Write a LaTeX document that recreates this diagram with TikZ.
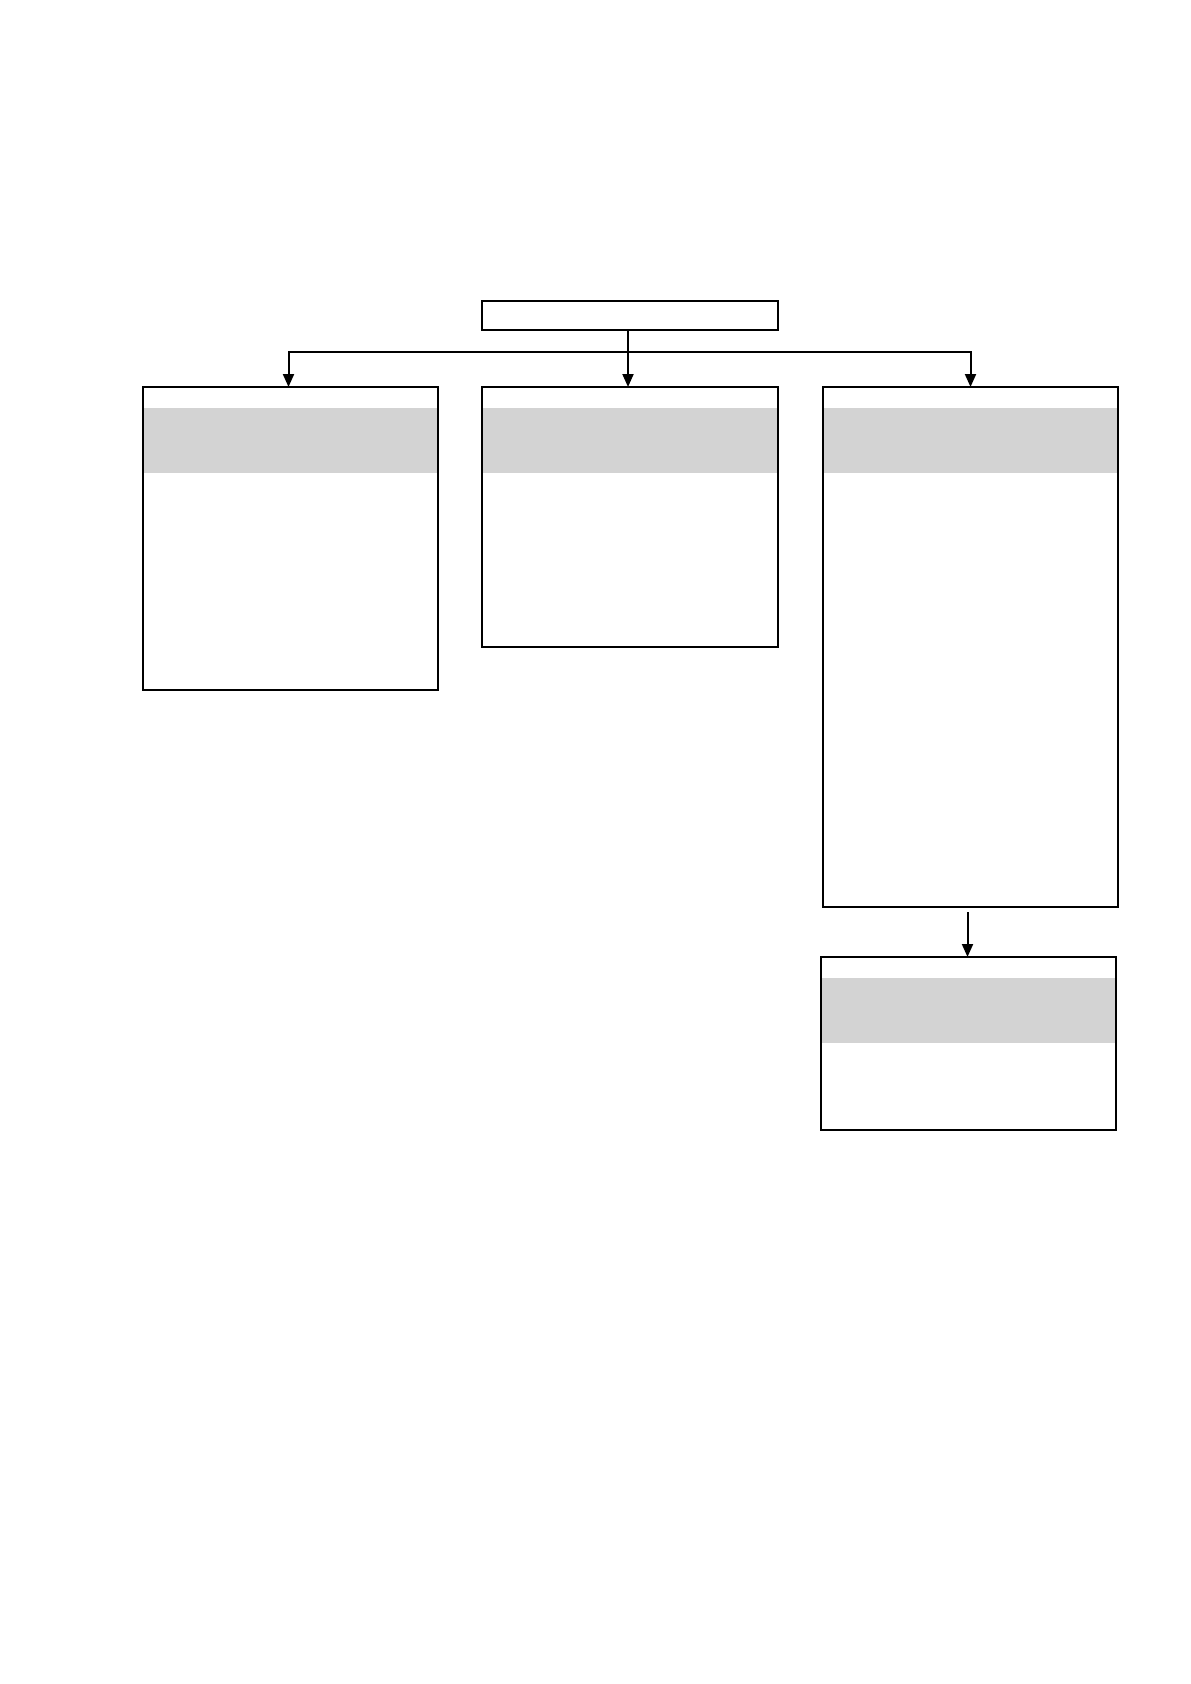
\documentclass[tikz,border=0pt]{standalone}
\usetikzlibrary{arrows.meta}
\definecolor{bandgray}{HTML}{D3D3D3}
\begin{document}
\begin{tikzpicture}[x=1pt,y=-1pt,
  boxnode/.style={draw=black, line width=2pt, fill=white, minimum width=295pt,
    inner sep=0pt, outer sep=0pt, anchor=north west},
  conn/.style={line width=2pt, -{Triangle[length=13pt,width=11pt]}}]
\useasboundingbox[fill=white] (0,0) rectangle (1191,1684);
\node[boxnode, minimum width=296pt, minimum height=29pt] (top) at (482,301) {};
\node[boxnode, minimum height=303pt] (left) at (143,387) {};
\node[boxnode, minimum width=296pt, minimum height=260pt] (mid) at (482,387) {};
\node[boxnode, minimum height=520pt] (right) at (823,387) {};
\node[boxnode, minimum height=173pt] (bottom) at (821,957) {};
\foreach \b in {left,mid,right,bottom}{
  \fill[bandgray] ([xshift=1pt,yshift=-21pt]\b.north west) rectangle ([xshift=-1pt,yshift=-86pt]\b.north east);
}
\coordinate (j) at (628,352);
\draw[conn] ([xshift=-2pt]top.south) -- ([xshift=-2pt]mid.north);
\draw[conn] (j) -| ([xshift=-2pt]left.north);
\draw[conn] (j) -| (right.north);
\draw[conn] ([yshift=-5pt,xshift=-1pt]bottom.north |- right.south) -- ([xshift=-1pt]bottom.north);
\end{tikzpicture}
\end{document}
